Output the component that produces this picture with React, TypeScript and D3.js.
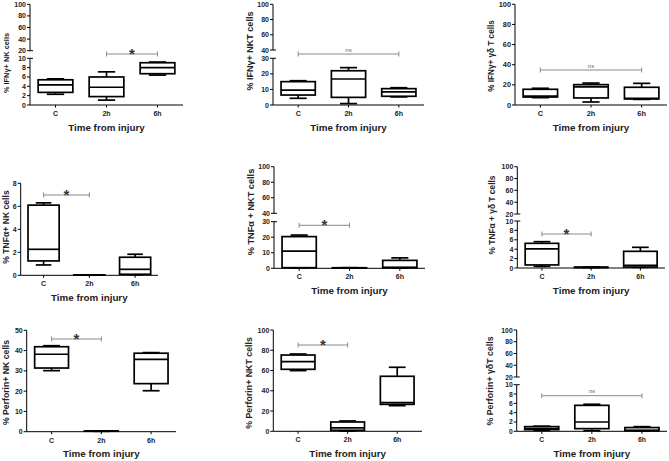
import React from 'react';
import * as d3 from 'd3';

const categories = ['C', '2h', '6h'];

// Box statistics per category: [whiskerLow, q1, median, q3, whiskerHigh]
const ifnNK = [[2.3, 2.7, 4.3, 5.4, 5.6], [1.05, 1.8, 3.8, 6.0, 7.1], [6.4, 6.7, 8.0, 9.05, 9.2]];
const ifnNKT = [[4.3, 6.4, 9.6, 15.0, 15.6], [0.9, 4.9, 16.7, 22.0, 24.0], [5.2, 5.6, 8.4, 10.5, 11.1]];
const ifnGD = [[7.3, 7.9, 8.9, 15.6, 16.6], [3.0, 7.0, 17.9, 20.2, 21.8], [5.6, 6.0, 6.6, 17.6, 21.5]];
const tnfNK = [[0.9, 1.25, 2.26, 6.1, 6.3], [0.01, 0.02, 0.02, 0.03, 0.04], [0.05, 0.09, 0.52, 1.57, 1.83]];
const tnfNKT = [[0.2, 0.4, 11.1, 20.4, 21.4], [0.2, 0.25, 0.3, 0.35, 0.4], [0.2, 0.4, 0.6, 5.1, 6.7]];
const tnfGD = [[0.35, 0.65, 4.05, 5.25, 5.6], [0.1, 0.12, 0.15, 0.18, 0.2], [0.15, 0.2, 0.57, 3.55, 4.4]];
const perfNK = [[30.1, 31.4, 38.2, 41.9, 42.4], [0.2, 0.25, 0.3, 0.35, 0.4], [20.2, 23.7, 35.7, 38.7, 39.0]];
const perfNKT = [[59.9, 61.2, 68.8, 75.3, 76.3], [0.3, 1.0, 3.3, 9.2, 10.2], [25.3, 26.6, 28.3, 54.3, 63.2]];
const perfGD = [[0.2, 0.36, 0.6, 1.0, 1.1], [0.14, 0.57, 2.0, 5.57, 5.8], [0.1, 0.14, 0.2, 0.8, 1.0]];

const yTitles = [
  '% IFNγ+ NK cells', '% IFNγ+ NKT cells', '% IFNγ+ γδ T cells',
  '% TNFα+ NK cells', '% TNFα + NKT cells', '% TNFα + γδ T cells',
  '% Perforin+ NK cells', '% Perforin+ NKT cells', '% Perforin+ γδT cells',
];
const xTitle = 'Time from injury';

const sigLabels = ['*', 'ns', 'ns', '*', '*', '*', '*', '*', 'ns'];
const sigPairs = [
  ['2h', '6h'], ['C', '6h'], ['C', '6h'],
  ['C', '2h'], ['C', '2h'], ['C', '2h'],
  ['C', '2h'], ['C', '2h'], ['C', '6h'],
];

// tick values: lower segment / upper segment (above the break)
const ticksLow = [
  [0, 2, 4, 6, 8, 10], [0, 10, 20, 30], [0, 20, 40, 60, 80, 100],
  [0, 2, 4, 6, 8], [0, 10, 20, 30], [0, 2, 4, 6, 8, 10],
  [0, 10, 20, 30, 40, 50], [0, 20, 40, 60, 80, 100], [0, 2, 4, 6, 8, 10],
];
const ticksHigh = [
  [20, 40, 60, 80, 100], [40, 60, 80, 100], [],
  [], [40, 60, 80, 100], [20, 40, 60, 80, 100],
  [], [], [20, 40, 60, 80, 100],
];

const allData = [ifnNK, ifnNKT, ifnGD, tnfNK, tnfNKT, tnfGD, perfNK, perfNKT, perfGD];

// layout (pixel geometry) for each panel
type Layout = {
  ax: number; xEnd: number; y0: number; yTop: number;
  yLow?: number; yHigh?: number; sigY: number;
  tickFs: number; labFs: number; labX: number; labY: number;
};
const layouts: Layout[] = [
  { ax: 30, xEnd: 183, y0: 105, yTop: 4.3, yLow: 58.3, yHigh: 50.7, sigY: 54, tickFs: 7, labFs: 7.4, labX: 6, labY: 63 },
  { ax: 273, xEnd: 424, y0: 105, yTop: 4.3, yLow: 58.3, yHigh: 50, sigY: 54, tickFs: 7, labFs: 9, labX: 250, labY: 51 },
  { ax: 515, xEnd: 667, y0: 105, yTop: 4.3, sigY: 70, tickFs: 7.4, labFs: 8.2, labX: 491.5, labY: 56 },
  { ax: 20.7, xEnd: 158, y0: 275.3, yTop: 183.3, sigY: 195, tickFs: 7, labFs: 8.6, labX: 6, labY: 227 },
  { ax: 274, xEnd: 425, y0: 268.3, yTop: 166.7, yLow: 221.7, yHigh: 213.3, sigY: 225.3, tickFs: 7, labFs: 9.2, labX: 250.5, labY: 212 },
  { ax: 517.3, xEnd: 665, y0: 268, yTop: 166.7, yLow: 221, yHigh: 214, sigY: 234, tickFs: 7, labFs: 8.4, labX: 491.5, labY: 215 },
  { ax: 26.7, xEnd: 176, y0: 431.7, yTop: 330.3, sigY: 339, tickFs: 7, labFs: 8.7, labX: 6, labY: 382.5 },
  { ax: 273.3, xEnd: 422, y0: 431.3, yTop: 330, sigY: 345, tickFs: 7, labFs: 8.8, labX: 249, labY: 383 },
  { ax: 516.7, xEnd: 667, y0: 431.3, yTop: 330, yLow: 384.7, yHigh: 377, sigY: 395.7, tickFs: 6.8, labFs: 8.8, labX: 490, labY: 381 },
];

const FONT = '"Liberation Sans", Arial, Helvetica, sans-serif';

function Panel({ idx }: { idx: number }) {
  const L = layouts[idx];
  const data = allData[idx];
  const tl = ticksLow[idx];
  const th = ticksHigh[idx];
  const broken = th.length > 0;
  const lowMax = tl[tl.length - 1];
  const x = d3.scalePoint<string>().domain(categories).range([L.ax, L.xEnd]).padding(0.5);
  const step = x.step();
  const bw = step * 0.68;
  const low = d3.scaleLinear().domain([0, lowMax]).range([L.y0, broken ? (L.yLow as number) : L.yTop]);
  const high = broken
    ? d3.scaleLinear().domain([th[0], th[th.length - 1]]).range([L.yHigh as number, L.yTop])
    : null;
  const y = (v: number) => (high && v >= th[0] ? high(v) : low(v));
  const sw = 1.7;
  const [s0, s1] = sigPairs[idx];
  const sx0 = x(s0) as number;
  const sx1 = x(s1) as number;
  const sigLab = sigLabels[idx];
  return (
    <g fontFamily={FONT} fontWeight="bold">
      {/* y axis */}
      <line x1={L.ax} x2={L.ax} y1={L.y0} y2={low(lowMax)} stroke="#000" strokeWidth={1} />
      {broken && high && (
        <>
          <line x1={L.ax} x2={L.ax} y1={high(th[0])} y2={high(th[th.length - 1])} stroke="#000" strokeWidth={1} />
          <line x1={L.ax} x2={L.ax + 3} y1={high(th[0])} y2={high(th[0])} stroke="#000" strokeWidth={1} />
          <line x1={L.ax} x2={L.ax + 3} y1={low(lowMax)} y2={low(lowMax)} stroke="#000" strokeWidth={1} />
        </>
      )}
      {[...tl.map((t) => ({ t, p: low(t) })), ...(high ? th.map((t) => ({ t, p: high(t) })) : [])].map(({ t, p }, i) => (
        <g key={i}>
          <line x1={L.ax - 3} x2={L.ax} y1={p} y2={p} stroke="#000" strokeWidth={1} />
          <text x={L.ax - 4} y={p} textAnchor="end" dominantBaseline="central" fontSize={L.tickFs} fill="#222">
            {t}
          </text>
        </g>
      ))}
      {/* x axis */}
      <line x1={L.ax} x2={L.xEnd} y1={L.y0} y2={L.y0} stroke="#000" strokeWidth={1} />
      {categories.map((c) => (
        <g key={c}>
          <line x1={x(c)} x2={x(c)} y1={L.y0} y2={L.y0 + 2.5} stroke="#000" strokeWidth={1} />
          <text x={x(c)} y={L.y0 + 8.5} textAnchor="middle" dominantBaseline="central" fontSize={L.tickFs} fill="#222">
            {c}
          </text>
        </g>
      ))}
      <text x={(L.ax + L.xEnd) / 2} y={L.y0 + 22} textAnchor="middle" dominantBaseline="central" fontSize={9.8} fill="#222">
        {xTitle}
      </text>
      <text
        transform={`translate(${L.labX},${L.labY}) rotate(-90)`}
        textAnchor="middle"
        dominantBaseline="central"
        fontSize={L.labFs}
        fill="#222"
      >
        {yTitles[idx]}
      </text>
      {/* boxes */}
      {data.map((d, i) => {
        const cx = x(categories[i]) as number;
        const [wl, q1, md, q3, wh] = d;
        return (
          <g key={i} stroke="#000" strokeWidth={sw} fill="none">
            <line x1={cx} x2={cx} y1={y(wh)} y2={y(q3)} />
            <line x1={cx} x2={cx} y1={y(q1)} y2={y(wl)} />
            <line x1={cx - bw / 4} x2={cx + bw / 4} y1={y(wh)} y2={y(wh)} />
            <line x1={cx - bw / 4} x2={cx + bw / 4} y1={y(wl)} y2={y(wl)} />
            <rect x={cx - bw / 2} y={y(q3)} width={bw} height={Math.max(0, y(q1) - y(q3))} fill="#fff" />
            <line x1={cx - bw / 2} x2={cx + bw / 2} y1={y(md)} y2={y(md)} />
          </g>
        );
      })}
      {/* significance */}
      <g stroke="#8a8a8a" strokeWidth={1}>
        <line x1={sx0} x2={sx1} y1={L.sigY} y2={L.sigY} />
        <line x1={sx0} x2={sx0} y1={L.sigY - 2.5} y2={L.sigY + 2.5} />
        <line x1={sx1} x2={sx1} y1={L.sigY - 2.5} y2={L.sigY + 2.5} />
      </g>
      {sigLab === '*' ? (
        <text x={(sx0 + sx1) / 2} y={L.sigY + 4.5} textAnchor="middle" fontSize={15} fill="#333">
          *
        </text>
      ) : (
        <text x={(sx0 + sx1) / 2} y={L.sigY - 2.5} textAnchor="middle" fontSize={6} fontWeight="normal" fontStyle="italic" fill="#666">
          ns
        </text>
      )}
    </g>
  );
}

export default function App() {
  return (
    <svg
      width={669}
      height={461}
      viewBox="0 0 669 461"
      style={{ position: 'absolute', left: 0, top: 0, background: '#fff' }}
    >
      <rect x={0} y={0} width={669} height={461} fill="#fff" />
      {layouts.map((_, i) => (
        <Panel key={i} idx={i} />
      ))}
    </svg>
  );
}
